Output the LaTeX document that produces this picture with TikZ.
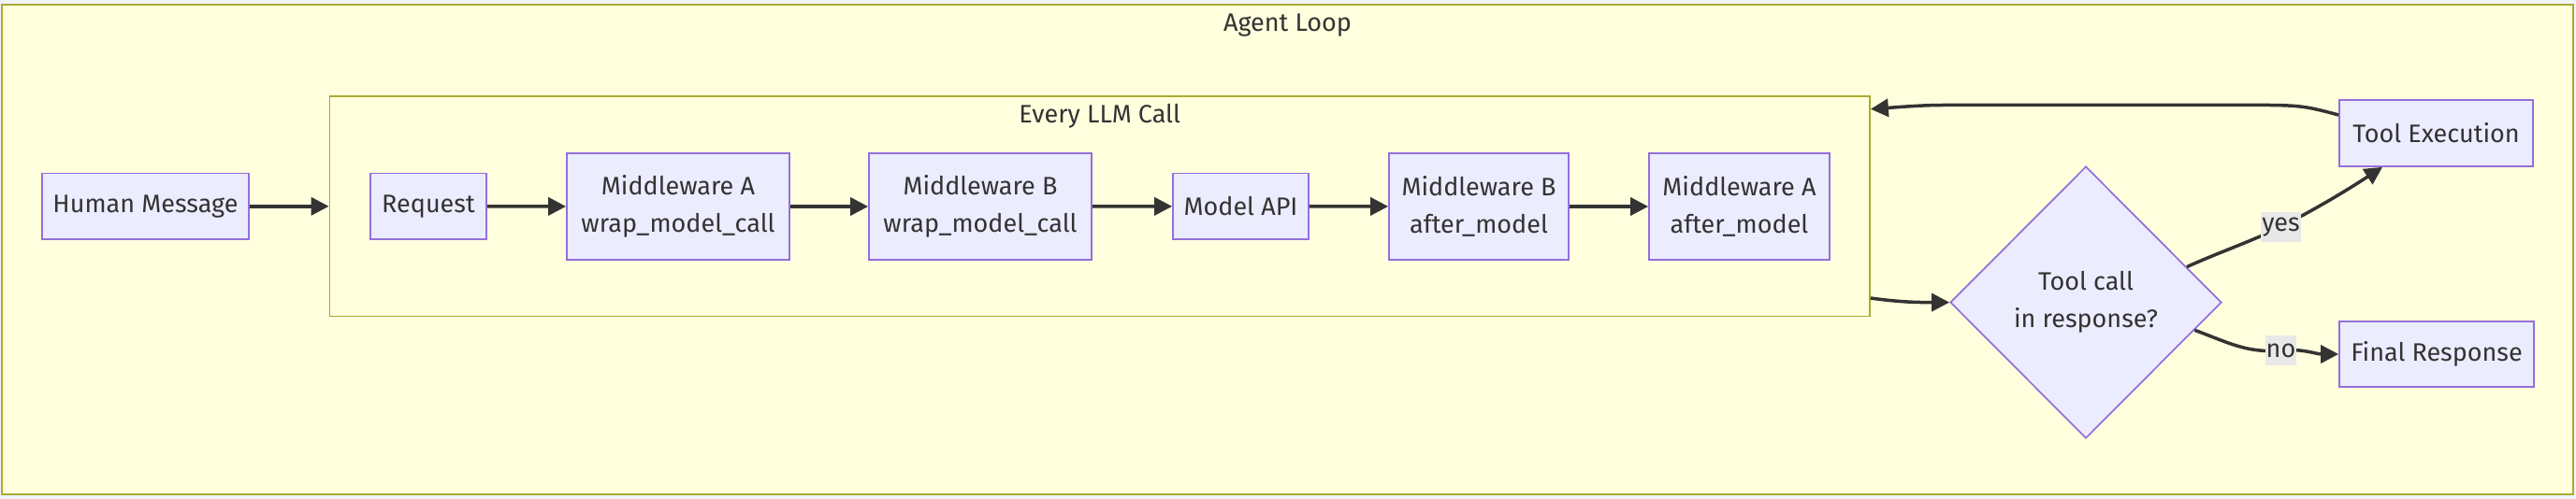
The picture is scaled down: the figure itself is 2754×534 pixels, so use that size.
\documentclass[tikz,border=0pt]{standalone}
\usepackage{fontspec}
\setmainfont{Fira Sans}
\usetikzlibrary{shapes.geometric,arrows.meta,calc}
\definecolor{nodefill}{HTML}{ECECFF}
\definecolor{nodestroke}{HTML}{9370DB}
\definecolor{clfill}{HTML}{FFFFDE}
\definecolor{clstroke}{HTML}{AAAA33}
\definecolor{edgec}{HTML}{333333}
\definecolor{lblbg}{HTML}{E8E8E8}
\definecolor{pagebg}{HTML}{F0F4F8}
\begin{document}
\begin{tikzpicture}[x=1pt,y=1pt,
  txt/.style={text=edgec, font=\fontsize{27}{40}\selectfont},
  box/.style={txt, draw=nodestroke, fill=nodefill, line width=1.75pt, inner sep=0pt, align=center},
  cluster/.style={draw=clstroke, fill=clfill, line width=1.75pt, inner sep=0pt},
  edge/.style={draw=edgec, line width=3.5pt, -{Triangle[length=19pt,width=19pt]}},
  lbl/.style={txt, fill=lblbg, inner sep=1pt, minimum height=32pt},
  decision/.style={box, shape=diamond, aspect=1, minimum width=290pt, minimum height=291pt}
]
\useasboundingbox (0,0) rectangle (2754,534);
\fill[pagebg] (0,0) rectangle (2754,534);

% clusters
\node[cluster, line width=2.2pt, minimum width=2749pt, minimum height=524pt] (agent) at (1376.5,267) {};
\node[txt] (agenttitle) at (1376.5,507.4) {Agent Loop};
\node[cluster, minimum width=1646.5pt, minimum height=235.5pt] (every) at (1175.75,313.25) {};
\node[txt] (everytitle) at (1175.75,409.7) {Every LLM Call};

% nodes
\node[box, minimum width=221pt, minimum height=70.4pt] (human) at (155.5,313.2) {Human Message};
\node[box, minimum width=124pt, minimum height=70.4pt] (req) at (458,313.2) {Request};
\node[box, minimum width=238pt, minimum height=114.5pt] (mwaw) at (725,313) {Middleware A\\wrap\_model\_call};
\node[box, minimum width=238pt, minimum height=114.5pt] (mwbw) at (1048,313) {Middleware B\\wrap\_model\_call};
\node[box, minimum width=145pt, minimum height=70.4pt] (api) at (1326.5,313.2) {Model API};
\node[box, minimum width=192pt, minimum height=114.5pt] (mwba) at (1581,313) {Middleware B\\after\_model};
\node[box, minimum width=193pt, minimum height=114.5pt] (mwaa) at (1859.5,313) {Middleware A\\after\_model};
\node[decision] (dec) at (2230,210.4) {Tool call\\in response?};
\node[box, minimum width=207pt, minimum height=71pt] (tool) at (2604.5,391.5) {Tool Execution};
\node[box, minimum width=208pt, minimum height=70.3pt] (final) at (2605,155) {Final Response};

% edges
\draw[edge] (human.east) -- (human.east -| every.west);
\draw[edge] (req) -- (mwaw);
\draw[edge] (mwaw) -- (mwbw);
\draw[edge] (mwbw) -- (api);
\draw[edge] (api) -- (mwba);
\draw[edge] (mwba) -- (mwaa);
\draw[edge] ([yshift=-98.25pt]every.east) to[out=-8,in=180] (dec.west);

\coordinate (ys) at ($(dec.north)!0.74!(dec.east)$);
\coordinate (ylab) at (2438.5,291);
\draw[edge] (ys) to[out=24,in=205] (ylab) to[out=28,in=213] ([xshift=-57.5pt]tool.south);
\node[lbl] (yeslbl) at (ylab) {yes};

\coordinate (ns) at ($(dec.east)!0.203!(dec.south)$);
\coordinate (nlab) at (2438.5,159);
\draw[edge] (ns) to[out=-20,in=185] (nlab) to[out=5,in=180] (final.west);
\node[lbl] (nolbl) at (nlab) {no};

\draw[edge] ([yshift=19.5pt]tool.west) .. controls (2460,421.6) .. (2390,421.6) -- (2120,421.6) .. controls (2060,421.6) .. ([yshift=104pt]every.east);
\end{tikzpicture}
\end{document}
